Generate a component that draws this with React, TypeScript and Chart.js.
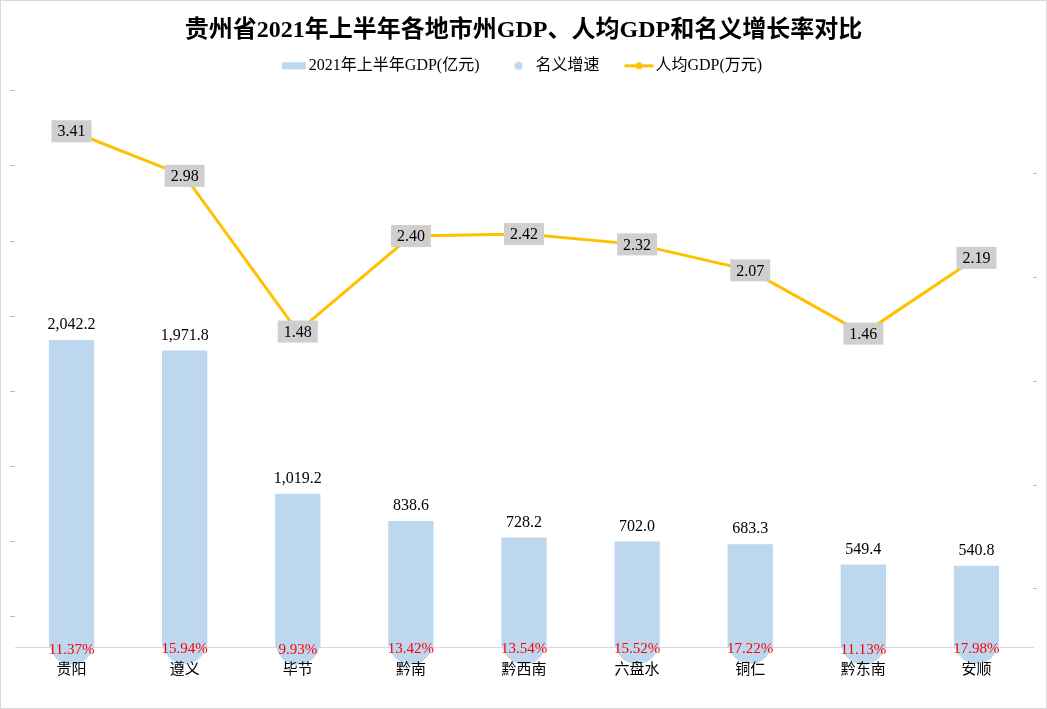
import React, { useEffect, useRef } from "react";
import { Chart, registerables } from "chart.js";

Chart.register(...registerables);

const categories = ["贵阳", "遵义", "毕节", "黔南", "黔西南", "六盘水", "铜仁", "黔东南", "安顺"];
const gdp = [2042.2, 1971.8, 1019.2, 838.6, 728.2, 702.0, 683.3, 549.4, 540.8];
const growth = [11.37, 15.94, 9.93, 13.42, 13.54, 15.52, 17.22, 11.13, 17.98];
const perCapita = [3.41, 2.98, 1.48, 2.40, 2.42, 2.32, 2.07, 1.46, 2.19];
const leftTicks = [200, 700, 1200, 1700, 2200, 2700, 3200, 3700];
const rightTicks = [-1, 0, 1, 2, 3];

const seriesNames = ["2021年上半年GDP(亿元)", "名义增速", "人均GDP(万元)"];
const titleText = "贵州省2021年上半年各地市州GDP、人均GDP和名义增长率对比";

const SERIF = "'Liberation Serif', 'Noto Sans CJK SC', serif";
const CJK = "'Noto Sans CJK SC', 'Liberation Serif', sans-serif";
const BAR_COLOR = "#BDD7EE";
const LINE_COLOR = "#FFC000";
const TICK_COLOR = "#BFBFBF";

// legend icons: canvas 54 wide, drawn centred on a 38px legend box
function makeIcon(kind: string): HTMLCanvasElement {
  const c = document.createElement("canvas");
  c.width = 54;
  c.height = 9;
  const ctx = c.getContext("2d")!;
  if (kind === "bar") {
    ctx.fillStyle = BAR_COLOR;
    ctx.fillRect(27, 1, 24, 7);
  } else if (kind === "dot") {
    ctx.fillStyle = BAR_COLOR;
    ctx.beginPath();
    ctx.arc(37, 4.5, 4, 0, Math.PI * 2);
    ctx.fill();
  } else {
    ctx.strokeStyle = LINE_COLOR;
    ctx.lineWidth = 3;
    ctx.beginPath();
    ctx.moveTo(23, 4.5);
    ctx.lineTo(52, 4.5);
    ctx.stroke();
    ctx.fillStyle = LINE_COLOR;
    ctx.beginPath();
    ctx.arc(37.5, 4.5, 3.5, 0, Math.PI * 2);
    ctx.fill();
  }
  return c;
}

const fmtGdp = (v: number) =>
  v.toLocaleString("en-US", { minimumFractionDigits: 1, maximumFractionDigits: 1 });

const legendShift = {
  id: "legendShift",
  afterLayout(chart: any) {
    const lg = chart.legend;
    if (lg) {
      lg.left -= 11;
      lg.right -= 11;
    }
  },
};

const labelPlugin = {
  id: "valueLabels",
  afterDatasetsDraw(chart: any) {
    const ctx = chart.ctx;
    ctx.save();
    ctx.textAlign = "center";
    ctx.textBaseline = "middle";
    const barMeta = chart.getDatasetMeta(0);
    ctx.font = `16px ${SERIF}`;
    ctx.fillStyle = "#000";
    barMeta.data.forEach((el: any, i: number) => {
      ctx.fillText(fmtGdp(gdp[i]), el.x, el.y - 15);
    });
    const sMeta = chart.getDatasetMeta(1);
    ctx.font = `15px ${SERIF}`;
    ctx.fillStyle = "#FF0000";
    sMeta.data.forEach((el: any, i: number) => {
      ctx.fillText(growth[i].toFixed(2) + "%", el.x, el.y + 7);
    });
    const lMeta = chart.getDatasetMeta(2);
    ctx.font = `16px ${SERIF}`;
    lMeta.data.forEach((el: any, i: number) => {
      const t = perCapita[i].toFixed(2);
      const w = ctx.measureText(t).width + 12;
      ctx.fillStyle = "#D0CECE";
      ctx.fillRect(el.x - w / 2, el.y - 11, w, 22);
      ctx.fillStyle = "#000";
      ctx.fillText(t, el.x, el.y + 1);
    });
    ctx.restore();
  },
};

export default function App() {
  const ref = useRef<HTMLCanvasElement | null>(null);
  useEffect(() => {
    document.body.style.margin = "0";
    const icons = [makeIcon("bar"), makeIcon("dot"), makeIcon("line")];
    const chart = new Chart(ref.current!, {
      type: "bar",
      data: {
        labels: categories,
        datasets: [
          {
            type: "bar",
            label: seriesNames[0],
            data: gdp,
            backgroundColor: BAR_COLOR,
            barPercentage: 0.4,
            categoryPercentage: 1,
            xAxisID: "x",
            yAxisID: "y",
            order: 2,
          },
          {
            type: "line",
            label: seriesNames[1],
            data: growth,
            showLine: false,
            clip: false,
            pointRadius: 22,
            pointHoverRadius: 22,
            pointBorderWidth: 0,
            pointBackgroundColor: BAR_COLOR,
            backgroundColor: BAR_COLOR,
            borderColor: BAR_COLOR,
            xAxisID: "x",
            yAxisID: "yG",
            order: 1,
          },
          {
            type: "line",
            label: seriesNames[2],
            data: perCapita,
            borderColor: LINE_COLOR,
            backgroundColor: LINE_COLOR,
            borderWidth: 3,
            pointRadius: 3,
            pointBackgroundColor: LINE_COLOR,
            pointBorderWidth: 0,
            tension: 0,
            xAxisID: "x",
            yAxisID: "y1",
            order: 0,
          },
        ] as any,
      },
      options: {
        animation: false,
        responsive: false,
        devicePixelRatio: 1,
        layout: { autoPadding: false, padding: { left: 9, right: 9, top: 0, bottom: 19 } },
        plugins: {
          title: {
            display: true,
            text: titleText,
            color: "#000",
            font: { family: SERIF, size: 24, weight: "bold" },
            padding: { top: 15, bottom: 3 },
          },
          legend: {
            display: true,
            position: "top",
            labels: {
              usePointStyle: true,
              pointStyleWidth: 38,
              color: "#000",
              font: { family: SERIF, size: 16 },
              padding: 10,
              generateLabels: () =>
                seriesNames.map((name, i) => ({
                  text: name,
                  pointStyle: icons[i],
                  fillStyle: "transparent",
                  strokeStyle: "transparent",
                  lineWidth: 0,
                  hidden: false,
                  datasetIndex: i,
                  fontColor: "#000",
                })),
            },
          },
          tooltip: { enabled: false },
        },
        scales: {
          x: {
            type: "category",
            position: "bottom",
            offset: true,
            grid: { display: false, drawTicks: false },
            border: { display: true, color: "#D9D9D9", width: 1 },
            ticks: { display: false },
          },
          xLabels: {
            type: "category",
            position: "bottom",
            offset: true,
            z: 1,
            grid: { display: false, drawTicks: false },
            border: { display: false },
            ticks: {
              z: 1,
              color: "#000",
              font: { family: CJK, size: 15 },
              padding: 12,
              maxRotation: 0,
              autoSkip: false,
            },
          },
          xTop: {
            type: "category",
            position: "top",
            offset: true,
            grid: { display: true, drawOnChartArea: false, drawTicks: true, tickLength: 7, color: "rgba(0,0,0,0)" },
            border: { display: false },
            ticks: { display: false },
          },
          y: {
            position: "left",
            min: 0,
            max: 3700,
            afterBuildTicks: (s: any) => {
              s.ticks = leftTicks.map((v) => ({ value: v }));
            },
            grid: { drawOnChartArea: false, drawTicks: true, tickLength: 5, color: TICK_COLOR },
            border: { display: false },
            ticks: { display: false },
          },
          y1: {
            position: "right",
            min: -1.56,
            max: 3.8,
            afterBuildTicks: (s: any) => {
              s.ticks = rightTicks.map((v) => ({ value: v }));
            },
            grid: { drawOnChartArea: false, drawTicks: true, tickLength: 4, color: TICK_COLOR },
            border: { display: false },
            ticks: { display: false },
          },
          yG: {
            display: false,
            min: -20,
            max: 4000,
          },
        },
      } as any,
      plugins: [labelPlugin, legendShift],
    });
    return () => chart.destroy();
  }, []);
  return (
    <div
      style={{
        position: "absolute",
        left: 0,
        top: 0,
        width: 1047,
        height: 709,
        boxSizing: "border-box",
        border: "1px solid #D9D9D9",
        background: "#fff",
      }}
    >
      <canvas ref={ref} width={1045} height={707} style={{ display: "block" }} />
    </div>
  );
}
